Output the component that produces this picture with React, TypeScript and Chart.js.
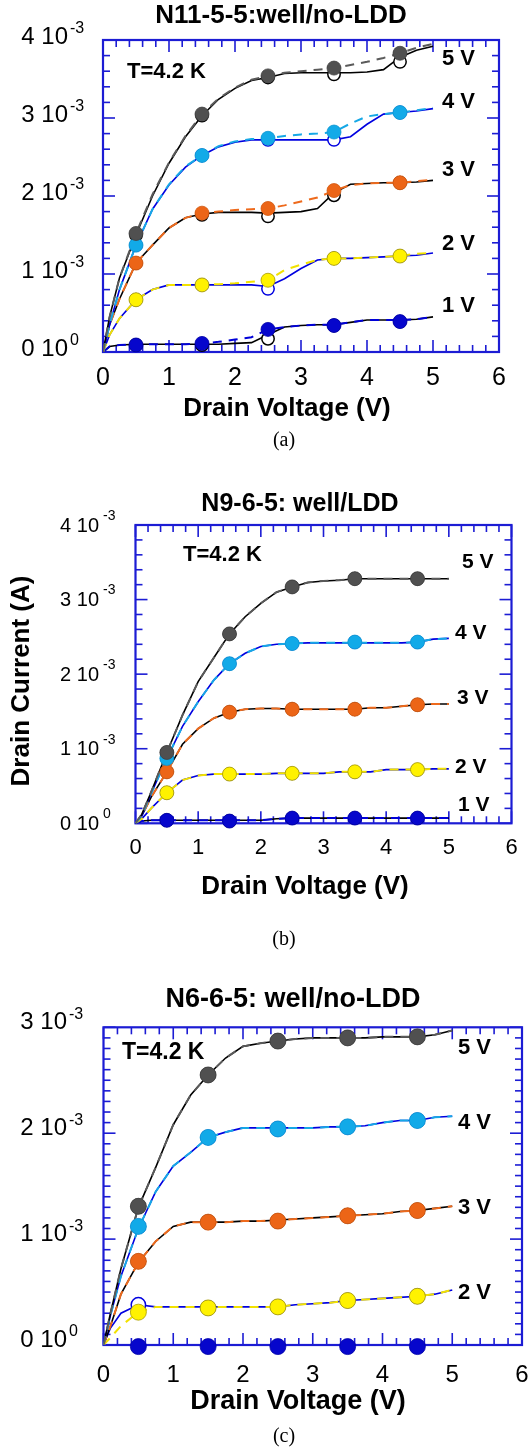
import React, { useEffect, useRef } from "react";
import { Chart, registerables } from "chart.js";

Chart.register(...registerables);

// ---------------- shared axes ----------------
const VD = [0, 0.1, 0.25, 0.5, 0.75, 1, 1.25, 1.5, 1.75, 2, 2.25, 2.5, 2.75, 3, 3.25, 3.5, 3.75, 4, 4.25, 4.5, 4.75, 5];
const VM = [0.5, 1.5, 2.5, 3.5, 4.5];
const X_TICKS = [0, 1, 2, 3, 4, 5, 6];
const X_TICK_LABELS = ["0", "1", "2", "3", "4", "5", "6"];
const GATES = ["5 V", "4 V", "3 V", "2 V", "1 V"];

// ---------------- panel (a): N11-5-5 (values in mA) ----------------
const A_MEAS_5V = [0, 0.45, 0.95, 1.5, 2.0, 2.42, 2.76, 3.03, 3.24, 3.38, 3.48, 3.52, 3.57, 3.58, 3.58, 3.58, 3.58, 3.59, 3.62, 3.78, 3.87, 3.92];
const A_SIM_5V = [0, 0.45, 0.95, 1.52, 2.02, 2.43, 2.77, 3.05, 3.25, 3.39, 3.49, 3.54, 3.58, 3.6, 3.62, 3.64, 3.68, 3.72, 3.77, 3.83, 3.9, 3.95];
const A_MEAS_4V = [0, 0.35, 0.8, 1.37, 1.83, 2.14, 2.37, 2.52, 2.63, 2.69, 2.72, 2.72, 2.72, 2.72, 2.72, 2.72, 2.76, 2.92, 3.05, 3.07, 3.09, 3.12];
const A_SIM_4V = [0, 0.35, 0.8, 1.37, 1.83, 2.15, 2.38, 2.52, 2.64, 2.7, 2.73, 2.74, 2.77, 2.79, 2.8, 2.82, 2.93, 3.02, 3.05, 3.07, 3.1, 3.13];
const A_MEAS_3V = [0, 0.35, 0.68, 1.14, 1.37, 1.59, 1.72, 1.77, 1.79, 1.79, 1.79, 1.78, 1.79, 1.8, 1.84, 2.04, 2.15, 2.16, 2.17, 2.17, 2.18, 2.2];
const A_SIM_3V = [0, 0.35, 0.68, 1.14, 1.37, 1.59, 1.72, 1.78, 1.8, 1.82, 1.83, 1.84, 1.88, 1.93, 1.98, 2.07, 2.14, 2.16, 2.17, 2.17, 2.19, 2.21];
const A_MEAS_2V = [0, 0.22, 0.43, 0.67, 0.8, 0.86, 0.86, 0.86, 0.86, 0.86, 0.86, 0.84, 0.94, 1.07, 1.18, 1.2, 1.2, 1.21, 1.22, 1.23, 1.24, 1.27];
const A_SIM_2V = [0, 0.22, 0.43, 0.67, 0.8, 0.86, 0.86, 0.86, 0.87, 0.88, 0.9, 0.92, 1.05, 1.12, 1.18, 1.2, 1.2, 1.21, 1.22, 1.23, 1.26, 1.27];
const A_MEAS_1V = [0, 0.07, 0.09, 0.1, 0.1, 0.1, 0.1, 0.1, 0.1, 0.11, 0.12, 0.22, 0.32, 0.34, 0.35, 0.35, 0.38, 0.41, 0.41, 0.41, 0.42, 0.45];
const A_SIM_1V = [0, 0.07, 0.09, 0.1, 0.1, 0.1, 0.1, 0.11, 0.13, 0.16, 0.19, 0.29, 0.32, 0.34, 0.35, 0.35, 0.38, 0.41, 0.41, 0.41, 0.42, 0.45];
const A_DOT_5V = [1.52, 3.05, 3.54, 3.64, 3.83];
const A_RING_5V = [1.5, 3.03, 3.52, 3.56, 3.72];
const A_DOT_4V = [1.37, 2.52, 2.74, 2.82, 3.07];
const A_RING_4V = [1.37, 2.52, 2.72, 2.72, 3.07];
const A_DOT_3V = [1.14, 1.78, 1.84, 2.07, 2.17];
const A_RING_3V = [1.14, 1.76, 1.74, 2.01, 2.17];
const A_DOT_2V = [0.67, 0.86, 0.92, 1.2, 1.23];
const A_RING_2V = [0.67, 0.86, 0.81, 1.2, 1.23];
const A_DOT_1V = [0.09, 0.11, 0.29, 0.34, 0.39];
const A_RING_1V = [0.09, 0.09, 0.17, 0.34, 0.39];
const A_Y_TICKS = [0, 1e-3, 2e-3, 3e-3, 4e-3];
const A_Y_MAIN = ["0 10", "1 10", "2 10", "3 10", "4 10"];
const A_Y_SUP = ["0", "-3", "-3", "-3", "-3"];

// ---------------- panel (b): N9-6-5 (values in mA) ----------------
const B_5V = [0, 0.12, 0.42, 0.95, 1.45, 1.9, 2.22, 2.54, 2.77, 2.95, 3.1, 3.17, 3.23, 3.25, 3.26, 3.28, 3.28, 3.28, 3.28, 3.28, 3.28, 3.28];
const B_4V = [0, 0.1, 0.4, 0.87, 1.3, 1.63, 1.92, 2.14, 2.28, 2.37, 2.4, 2.41, 2.42, 2.42, 2.42, 2.42, 2.42, 2.42, 2.42, 2.43, 2.47, 2.48];
const B_3V = [0, 0.1, 0.35, 0.69, 1.06, 1.27, 1.41, 1.49, 1.53, 1.54, 1.54, 1.53, 1.53, 1.53, 1.53, 1.53, 1.55, 1.55, 1.57, 1.59, 1.6, 1.6];
const B_2V = [0, 0.06, 0.2, 0.41, 0.58, 0.64, 0.66, 0.66, 0.66, 0.66, 0.67, 0.67, 0.67, 0.67, 0.69, 0.69, 0.69, 0.72, 0.72, 0.72, 0.73, 0.73];
const B_1V = [0, 0.03, 0.04, 0.04, 0.04, 0.04, 0.04, 0.04, 0.04, 0.04, 0.06, 0.07, 0.07, 0.07, 0.07, 0.07, 0.07, 0.07, 0.07, 0.07, 0.07, 0.07];
const B_DOT_5V = [0.95, 2.54, 3.17, 3.28, 3.28];
const B_DOT_4V = [0.87, 2.14, 2.41, 2.43, 2.43];
const B_DOT_3V = [0.69, 1.49, 1.53, 1.53, 1.59];
const B_DOT_2V = [0.41, 0.66, 0.67, 0.69, 0.72];
const B_DOT_1V = [0.04, 0.03, 0.07, 0.07, 0.07];
const B_Y_TICKS = [0, 1e-3, 2e-3, 3e-3, 4e-3];
const B_Y_MAIN = ["0 10", "1 10", "2 10", "3 10", "4 10"];
const B_Y_SUP = ["0", "-3", "-3", "-3", "-3"];

// ---------------- panel (c): N6-6-5 (values in mA) ----------------
const C_5V = [0, 0.3, 0.72, 1.3, 1.68, 2.08, 2.36, 2.55, 2.71, 2.82, 2.85, 2.87, 2.89, 2.9, 2.9, 2.9, 2.9, 2.91, 2.91, 2.91, 2.93, 2.97];
const C_4V = [0, 0.28, 0.65, 1.1, 1.45, 1.69, 1.82, 1.96, 2.01, 2.05, 2.05, 2.05, 2.05, 2.05, 2.06, 2.06, 2.07, 2.1, 2.12, 2.12, 2.15, 2.16];
const C_3V = [0, 0.18, 0.48, 0.78, 0.98, 1.12, 1.16, 1.16, 1.16, 1.17, 1.17, 1.18, 1.19, 1.2, 1.21, 1.22, 1.23, 1.24, 1.26, 1.27, 1.29, 1.31];
const C_MEAS_2V = [0, 0.16, 0.3, 0.38, 0.36, 0.36, 0.36, 0.36, 0.36, 0.36, 0.36, 0.36, 0.38, 0.39, 0.4, 0.42, 0.43, 0.44, 0.45, 0.46, 0.48, 0.52];
const C_SIM_2V = [0, 0.07, 0.18, 0.31, 0.36, 0.36, 0.36, 0.36, 0.36, 0.36, 0.36, 0.36, 0.38, 0.39, 0.4, 0.42, 0.43, 0.44, 0.45, 0.46, 0.48, 0.52];
const C_DOT_5V = [1.31, 2.55, 2.87, 2.9, 2.91];
const C_DOT_4V = [1.12, 1.96, 2.04, 2.06, 2.12];
const C_DOT_3V = [0.79, 1.16, 1.17, 1.22, 1.27];
const C_DOT_2V = [0.31, 0.35, 0.36, 0.42, 0.46];
const C_RING_2V = [0.38, 0.35, 0.36, 0.42, 0.46];
const C_DOT_1V = [-0.015, -0.015, -0.015, -0.015, -0.015];
const C_Y_TICKS = [0, 1e-3, 2e-3, 3e-3];
const C_Y_MAIN = ["0 10", "1 10", "2 10", "3 10"];
const C_Y_SUP = ["0", "-3", "-3", "-3"];

// ---------------- styles ----------------
const SANS = '"Liberation Sans", Arial, Helvetica, sans-serif';
const SERIF = '"Liberation Serif", "Times New Roman", serif';
const FRAME = "#1c1cd4";
const GATE_STYLE: Record<string, any> = {
  "5 V": { meas: "#000000", sim: "#5a5a5a", dot: "#505050", edge: "#404040" },
  "4 V": { meas: "#0000e0", sim: "#16a8e6", dot: "#12aae8", edge: "#0e96d0" },
  "3 V": { meas: "#000000", sim: "#ee6a1c", dot: "#ec6517", edge: "#d05810" },
  "2 V": { meas: "#0000e0", sim: "#f2e200", dot: "#fff200", edge: "#a89c00" },
  "1 V": { meas: "#000000", sim: "#0000d8", dot: "#0606cc", edge: "#0000a8" },
};

const PANEL_A = {
  top: 0, height: 465, yMax: 4e-3, yMinor: 0.2e-3, r: 7,
  area: { left: 103, top: 40, right: 499, bottom: 352 },
  series: [
    { gate: "5 V", meas: A_MEAS_5V, sim: A_SIM_5V, dots: A_DOT_5V, rings: A_RING_5V },
    { gate: "4 V", meas: A_MEAS_4V, sim: A_SIM_4V, dots: A_DOT_4V, rings: A_RING_4V },
    { gate: "3 V", meas: A_MEAS_3V, sim: A_SIM_3V, dots: A_DOT_3V, rings: A_RING_3V },
    { gate: "2 V", meas: A_MEAS_2V, sim: A_SIM_2V, dots: A_DOT_2V, rings: A_RING_2V },
    { gate: "1 V", meas: A_MEAS_1V, sim: A_SIM_1V, dots: A_DOT_1V, rings: A_RING_1V },
  ],
  title: "N11-5-5:well/no-LDD", titleX: 281, titleY: 16, titleSize: 26,
  xTickY: 378, xTickSize: 25,
  xTitleX: 287, xTitleY: 409, xTitleSize: 26,
  caption: "(a)", captionX: 284, captionY: 441,
  yTicks: A_Y_TICKS, yMain: A_Y_MAIN, ySup: A_Y_SUP,
  yMainSize: 24, yMainRight: 68, yMainDy: -3, ySupSize: 16, ySupLeft: 70, ySupDy: -11,
  yTitle: null as any,
  tLabel: { x: 127, y: 72, size: 22 },
  gateSize: 22,
  gateLabels: [
    { t: "5 V", x: 442, y: 59 }, { t: "4 V", x: 442, y: 102 }, { t: "3 V", x: 442, y: 170 },
    { t: "2 V", x: 442, y: 244 }, { t: "1 V", x: 442, y: 306 },
  ],
};

const PANEL_B = {
  top: 465, height: 490, yMax: 4e-3, yMinor: 0.2e-3, r: 7,
  area: { left: 135.5, top: 60, right: 511.5, bottom: 358.3 },
  series: [
    { gate: "5 V", meas: B_5V, sim: B_5V, dots: B_DOT_5V, rings: B_DOT_5V },
    { gate: "4 V", meas: B_4V, sim: B_4V, dots: B_DOT_4V, rings: B_DOT_4V },
    { gate: "3 V", meas: B_3V, sim: B_3V, dots: B_DOT_3V, rings: B_DOT_3V },
    { gate: "2 V", meas: B_2V, sim: B_2V, dots: B_DOT_2V, rings: B_DOT_2V },
    { gate: "1 V", meas: B_1V, sim: B_1V, dots: B_DOT_1V, rings: B_DOT_1V },
  ],
  title: "N9-6-5: well/LDD", titleX: 300, titleY: 39, titleSize: 25,
  xTickY: 383, xTickSize: 22,
  xTitleX: 305, xTitleY: 422, xTitleSize: 26,
  caption: "(b)", captionX: 284, captionY: 475,
  yTicks: B_Y_TICKS, yMain: B_Y_MAIN, ySup: B_Y_SUP,
  yMainSize: 20, yMainRight: 99, yMainDy: 1, ySupSize: 14, ySupLeft: 103, ySupDy: -9,
  yTitle: { t: "Drain Current (A)", x: 22, y: 216, size: 26 },
  tLabel: { x: 183, y: 90, size: 22 },
  gateSize: 21,
  gateLabels: [
    { t: "5 V", x: 462, y: 97 }, { t: "4 V", x: 455, y: 168 }, { t: "3 V", x: 457, y: 233 },
    { t: "2 V", x: 455, y: 302 }, { t: "1 V", x: 458, y: 340 },
  ],
};

const PANEL_C = {
  top: 955, height: 494, yMax: 3e-3, yMinor: 0.1e-3, r: 8,
  area: { left: 103.5, top: 72.3, right: 522, bottom: 390 },
  series: [
    { gate: "5 V", meas: C_5V, sim: C_5V, dots: C_DOT_5V, rings: C_DOT_5V },
    { gate: "4 V", meas: C_4V, sim: C_4V, dots: C_DOT_4V, rings: C_DOT_4V },
    { gate: "3 V", meas: C_3V, sim: C_3V, dots: C_DOT_3V, rings: C_DOT_3V },
    { gate: "2 V", meas: C_MEAS_2V, sim: C_SIM_2V, dots: C_DOT_2V, rings: C_RING_2V },
    { gate: "1 V", meas: null, sim: null, dots: C_DOT_1V, rings: null },
  ],
  title: "N6-6-5: well/no-LDD", titleX: 293, titleY: 45, titleSize: 27,
  xTickY: 420, xTickSize: 24,
  xTitleX: 298, xTitleY: 447, xTitleSize: 27,
  caption: "(c)", captionX: 284, captionY: 482,
  yTicks: C_Y_TICKS, yMain: C_Y_MAIN, ySup: C_Y_SUP,
  yMainSize: 24, yMainRight: 67, yMainDy: -5, ySupSize: 16, ySupLeft: 69, ySupDy: -13,
  yTitle: null as any,
  tLabel: { x: 122, y: 98, size: 23 },
  gateSize: 22,
  gateLabels: [
    { t: "5 V", x: 458, y: 93 }, { t: "4 V", x: 458, y: 168 }, { t: "3 V", x: 458, y: 253 },
    { t: "2 V", x: 458, y: 338 },
  ],
};

function toXY(xs: number[], ys: number[]) {
  return xs.map((x, i) => ({ x, y: ys[i] * 1e-3 }));
}

function buildDatasets(P: any) {
  const ds: any[] = [];
  P.series.forEach((s: any) => {
    const st = GATE_STYLE[s.gate];
    ds.push({
      label: s.gate + " dots", data: toXY(VM, s.dots), showLine: false, order: 1, clip: false,
      pointRadius: P.r, pointHoverRadius: P.r, pointBackgroundColor: st.dot, pointBorderColor: st.edge, pointBorderWidth: 0.8,
    });
    if (s.sim) {
      ds.push({
        label: s.gate + " sim", data: toXY(VD, s.sim), showLine: true, order: 2, pointRadius: 0,
        borderColor: st.sim, borderWidth: 2, borderDash: [9, 7], tension: 0, fill: false,
      });
    }
    if (s.rings) {
      ds.push({
        label: s.gate + " rings", data: toXY(VM, s.rings), showLine: false, order: 3, clip: false,
        pointRadius: P.r - 0.8, pointHoverRadius: P.r - 0.8, pointBackgroundColor: "#ffffff", pointBorderColor: st.meas, pointBorderWidth: 1.5,
      });
    }
    if (s.meas) {
      ds.push({
        label: s.gate + " meas", data: toXY(VD, s.meas), showLine: true, order: 4, pointRadius: 0,
        borderColor: st.meas, borderWidth: 1.6, tension: 0, fill: false,
      });
    }
  });
  return ds;
}

function txt(ctx: CanvasRenderingContext2D, s: string, x: number, y: number, font: string, align: CanvasTextAlign) {
  ctx.font = font;
  ctx.textAlign = align;
  ctx.textBaseline = "middle";
  ctx.fillStyle = "#000000";
  ctx.fillText(s, x, y);
}

function makePlugins(P: any) {
  const frame = {
    id: "frameTicks",
    beforeDatasetsDraw(chart: any) {
      const { ctx, chartArea: a } = chart;
      const xs = chart.scales.x, ys = chart.scales.y;
      ctx.save();
      ctx.strokeStyle = FRAME;
      ctx.lineWidth = 1.6;
      const seg = (x1: number, y1: number, x2: number, y2: number) => {
        ctx.beginPath(); ctx.moveTo(x1, y1); ctx.lineTo(x2, y2); ctx.stroke();
      };
      for (let k = 0; k <= 30; k++) {
        const v = k * 0.2;
        const px = xs.getPixelForValue(v);
        const L = k % 5 === 0 ? 12 : 7;
        seg(px, a.bottom, px, a.bottom - L);
        seg(px, a.top, px, a.top + L);
      }
      const nMinor = Math.round(P.yMax / P.yMinor);
      const perMajor = Math.round(1e-3 / P.yMinor);
      for (let k = 0; k <= nMinor; k++) {
        const py = ys.getPixelForValue(k * P.yMinor);
        const L = k % perMajor === 0 ? 12 : 7;
        seg(a.left, py, a.left + L, py);
        seg(a.right, py, a.right - L, py);
      }
      ctx.lineWidth = 2.2;
      ctx.strokeRect(a.left, a.top, a.right - a.left, a.bottom - a.top);
      ctx.restore();
    },
  };
  const texts = {
    id: "panelTexts",
    afterDraw(chart: any) {
      const { ctx } = chart;
      const xs = chart.scales.x, ys = chart.scales.y;
      ctx.save();
      txt(ctx, P.title, P.titleX, P.titleY, `bold ${P.titleSize}px ${SANS}`, "center");
      X_TICKS.forEach((v, i) => txt(ctx, X_TICK_LABELS[i], xs.getPixelForValue(v), P.xTickY, `${P.xTickSize}px ${SANS}`, "center"));
      txt(ctx, "Drain Voltage (V)", P.xTitleX, P.xTitleY, `bold ${P.xTitleSize}px ${SANS}`, "center");
      P.yTicks.forEach((v: number, i: number) => {
        const py = ys.getPixelForValue(v);
        txt(ctx, P.yMain[i], P.yMainRight, py + P.yMainDy, `${P.yMainSize}px ${SANS}`, "right");
        txt(ctx, P.ySup[i], P.ySupLeft, py + P.ySupDy, `${P.ySupSize}px ${SANS}`, "left");
      });
      if (P.yTitle) {
        ctx.save();
        ctx.translate(P.yTitle.x, P.yTitle.y);
        ctx.rotate(-Math.PI / 2);
        txt(ctx, P.yTitle.t, 0, 0, `bold ${P.yTitle.size}px ${SANS}`, "center");
        ctx.restore();
      }
      txt(ctx, "T=4.2 K", P.tLabel.x, P.tLabel.y, `bold ${P.tLabel.size}px ${SANS}`, "left");
      P.gateLabels.forEach((g: any) => txt(ctx, g.t, g.x, g.y, `bold ${P.gateSize}px ${SANS}`, "left"));
      txt(ctx, P.caption, P.captionX, P.captionY, `20px ${SERIF}`, "center");
      ctx.restore();
    },
  };
  return [frame, texts];
}

function Panel({ P }: { P: any }) {
  const ref = useRef<HTMLCanvasElement | null>(null);
  useEffect(() => {
    if (!ref.current) return;
    const a = P.area;
    const chart = new Chart(ref.current, {
      type: "scatter",
      data: { datasets: buildDatasets(P) },
      options: {
        animation: false,
        responsive: false,
        devicePixelRatio: 1,
        events: [],
        layout: { padding: { left: a.left, top: a.top, right: 532 - a.right, bottom: P.height - a.bottom } },
        plugins: { legend: { display: false }, tooltip: { enabled: false }, title: { display: false } },
        scales: {
          x: { type: "linear", min: 0, max: 6, display: false },
          y: { type: "linear", min: 0, max: P.yMax, display: false },
        },
      },
      plugins: makePlugins(P),
    } as any);
    return () => chart.destroy();
  }, [P]);
  return (
    <canvas
      ref={ref}
      width={532}
      height={P.height}
      style={{ position: "absolute", left: 0, top: P.top, width: 532, height: P.height, display: "block" }}
    />
  );
}

export default function App() {
  return (
    <div style={{ position: "absolute", left: 0, top: 0, width: 532, height: 1449, background: "#ffffff", overflow: "hidden" }}>
      <Panel P={PANEL_A} />
      <Panel P={PANEL_B} />
      <Panel P={PANEL_C} />
    </div>
  );
}
